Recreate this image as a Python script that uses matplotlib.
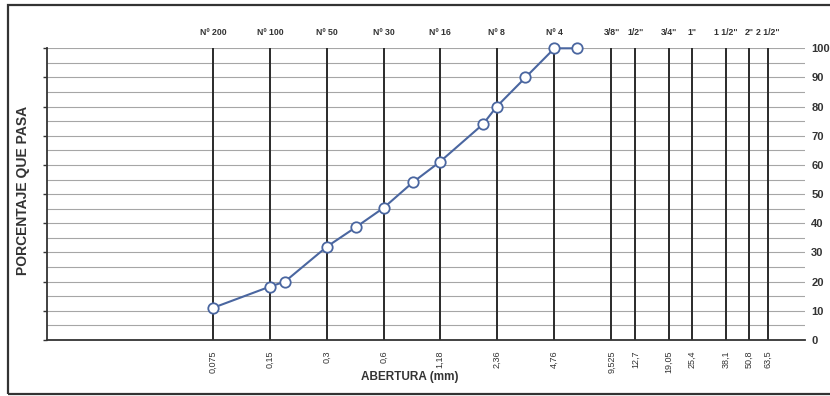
import matplotlib
matplotlib.use("Agg")
import matplotlib.pyplot as plt
from matplotlib.patches import Rectangle

plt.rcParams["font.family"] = ["Liberation Sans", "DejaVu Sans"]

# Sieve openings (mm) and their designations
sieve_mm = [0.075, 0.15, 0.3, 0.6, 1.18, 2.36, 4.76, 9.525, 12.7, 19.05, 25.4, 38.1, 50.8, 63.5]
sieve_mm_labels = ["0,075", "0,15", "0,3", "0,6", "1,18", "2,36", "4,76",
                   "9,525", "12,7", "19,05", "25,4", "38,1", "50,8", "63,5"]
sieve_names = ["Nº 200", "Nº 100", "Nº 50", "Nº 30", "Nº 16", "Nº 8", "Nº 4",
               "3/8\"", "1/2\"", "3/4\"", "1\"", "1 1/2\"", "2\"", "2 1/2\""]

# Grading curve
opening_mm = [0.075, 0.15, 0.18, 0.3, 0.425, 0.6, 0.85, 1.18, 2.0, 2.36, 3.35, 4.76, 6.3]
passing_pct = [11, 18.3, 20, 32, 38.6, 45.4, 54, 61, 74, 80, 90, 100, 100]

y_ticks = list(range(0, 101, 10))

W, H = 830, 396
fig = plt.figure(figsize=(W / 100, H / 100), dpi=100)
fig.patch.set_facecolor("white")

# outer frame
fig.add_artist(Rectangle((8 / W, 2 / H), 830 / W, 389 / H, transform=fig.transFigure,
                         fill=False, edgecolor="#333333", lw=1.6))

ax = fig.add_axes([47 / W, (H - 340) / H, (805 - 47) / W, (340 - 48.3) / H])
ax.set_xscale("log")
ax.set_xlim(0.01, 100)
ax.set_ylim(0, 100)

# horizontal grid every 5 %
for v in range(5, 101, 5):
    ax.axhline(v, color="#a6a6a6", lw=0.8, zorder=1)

# sieve verticals
for s in sieve_mm:
    ax.axvline(s, color="#2a2a2a", lw=1.4, zorder=2)

ax.plot(opening_mm, passing_pct, color="#4a66a0", lw=1.5, marker="o", ms=7.5,
        mfc="white", mec="#4a66a0", mew=1.3, zorder=5, clip_on=False)

for sp in ["top", "right"]:
    ax.spines[sp].set_visible(False)
ax.spines["left"].set_color("#333333")
ax.spines["left"].set_linewidth(1.3)
ax.spines["bottom"].set_color("#333333")
ax.spines["bottom"].set_linewidth(1.3)

ax.set_yticks(y_ticks)
ax.set_yticklabels([str(v) for v in y_ticks])
ax.tick_params(axis="y", which="both", left=True, right=False, labelleft=False,
               labelright=True, length=3, width=1, color="#333333", pad=1.5,
               labelsize=8, labelcolor="#333333")
for lab in ax.get_yticklabels():
    lab.set_fontweight("bold")

ax.set_xticks([])
ax.set_xticks([], minor=True)
ax.tick_params(axis="x", which="both", bottom=False, labelbottom=False)

# sieve designations above, openings below
for s, name, lab in zip(sieve_mm, sieve_names, sieve_mm_labels):
    ax.text(s, 105.5, name, ha="center", va="center", fontsize=6.3,
            fontweight="bold", color="#333333")
    ax.text(s, -3.5, lab, ha="center", va="top", rotation=90, fontsize=6.5,
            color="#333333")

fig.text(410 / W, 1 - 377 / H, "ABERTURA (mm)", ha="center",
         va="center", fontsize=8.5, fontweight="bold", color="#333333")
fig.text(23 / W, 1 - 190 / H, "PORCENTAJE QUE PASA", rotation=90, ha="center",
         va="center", fontsize=10, fontweight="bold", color="#333333")

fig.savefig("out.png", dpi=100, facecolor="white")
